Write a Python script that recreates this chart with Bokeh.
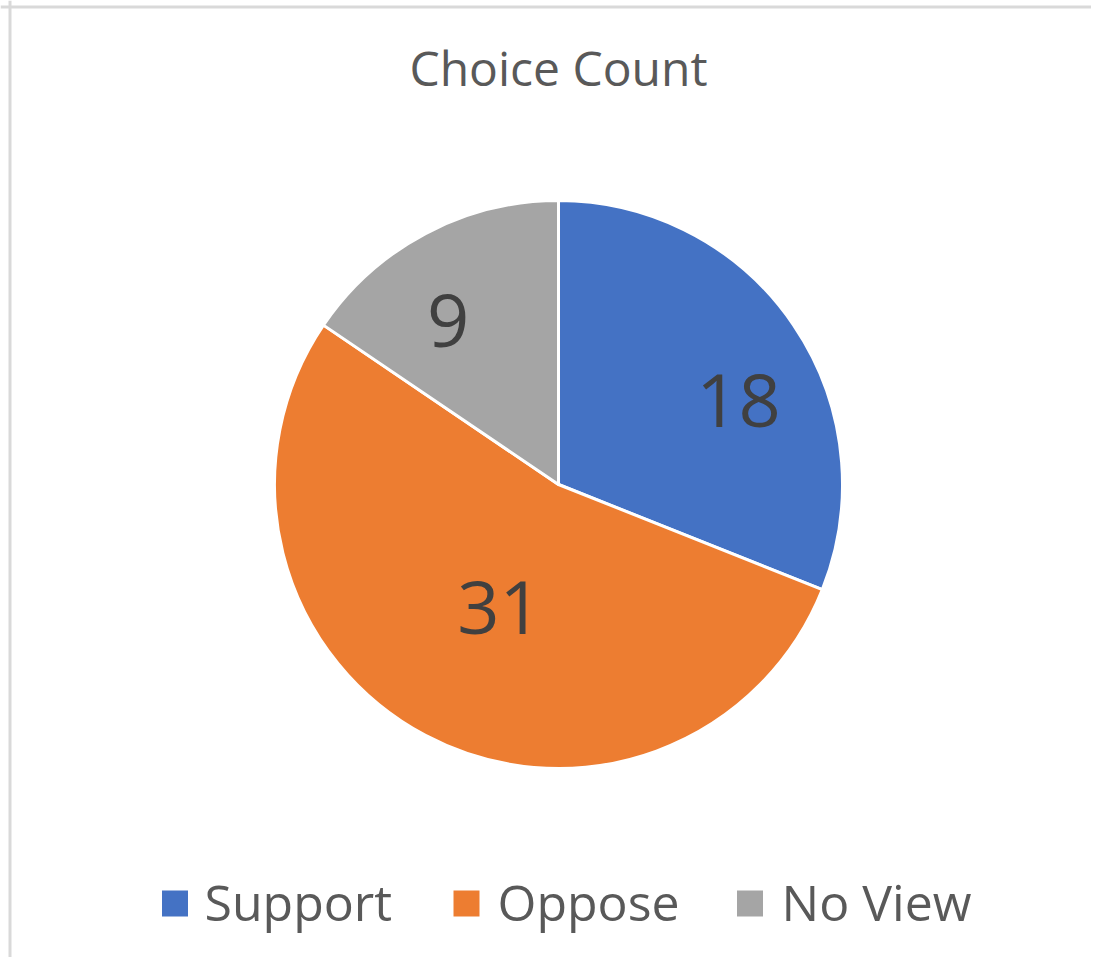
import math
from bokeh.plotting import figure
from bokeh.models import Range1d, Span, ColumnDataSource
from bokeh.core.properties import value
from bokeh.embed import file_html
from bokeh.resources import INLINE

# ---- data ----
title_text = "Choice Count"
categories = ["Support", "Oppose", "No View"]
counts = [18, 31, 9]
colors = ["#4472C4", "#ED7D31", "#A5A5A5"]

# ---- layout (style) ----
W, H = 1091, 957
FONT = "Open Sans"
cx, cy, R = 558, 473, 284
# label placement (Excel best-fit): angle shift (deg) from mid-angle, radial distance
label_shift_deg = [-9.1, 2.3, 6.0]
label_dist = [198.6, 136.4, 197.5]
label_size = 74

p = figure(width=W, height=H, output_backend="svg", toolbar_location=None,
           x_range=Range1d(0, W), y_range=Range1d(0, H), min_border=0,
           background_fill_color="white", border_fill_color="white")
p.axis.visible = False
p.grid.visible = False
p.outline_line_color = None

# chart border (top and left visible in the reference)
p.add_layout(Span(location=950.5, dimension="width", line_color="#d9d9d9", line_width=3))
p.add_layout(Span(location=9.5, dimension="height", line_color="#d9d9d9", line_width=3))

total = sum(counts)
starts, ends, lx, ly = [], [], [], []
cum = 0
for i, c in enumerate(counts):
    a0 = math.pi / 2 - 2 * math.pi * cum / total
    cum += c
    a1 = math.pi / 2 - 2 * math.pi * cum / total
    starts.append(a0)
    ends.append(a1)
    mid = (a0 + a1) / 2 + math.radians(label_shift_deg[i])
    lx.append(cx + label_dist[i] * math.cos(mid))
    ly.append(cy + label_dist[i] * math.sin(mid))

src = ColumnDataSource(dict(start=starts, end=ends, color=colors,
                            lx=lx, ly=ly, txt=[str(c) for c in counts]))
p.wedge(x=cx, y=cy, radius=R, start_angle="start", end_angle="end",
        direction="clock", fill_color="color", line_color="white",
        line_width=3, source=src)
p.text(x="lx", y="ly", text="txt", source=src, text_align="center",
       text_baseline="alphabetic", text_font=value(FONT),
       text_font_size=f"{label_size}px", text_color="#404040")

# title
p.text(x=[cx], y=[890], text=[title_text], text_align="center",
       text_baseline="alphabetic", text_font=value(FONT),
       text_font_size="48px", text_color="#595959")

# legend
sq_x = [174.5, 466, 749.5]
tx_x = [204, 497, 781]
leg = ColumnDataSource(dict(sx=sq_x, tx=tx_x, color=colors, label=categories))
p.rect(x="sx", y=54, width=26, height=26, fill_color="color", line_color=None, source=leg)
p.text(x="tx", y=56, text="label", source=leg, text_align="left",
       text_baseline="alphabetic", text_font=value(FONT),
       text_font_size="50px", text_color="#595959")

open("out.html", "w").write(file_html(p, INLINE))
